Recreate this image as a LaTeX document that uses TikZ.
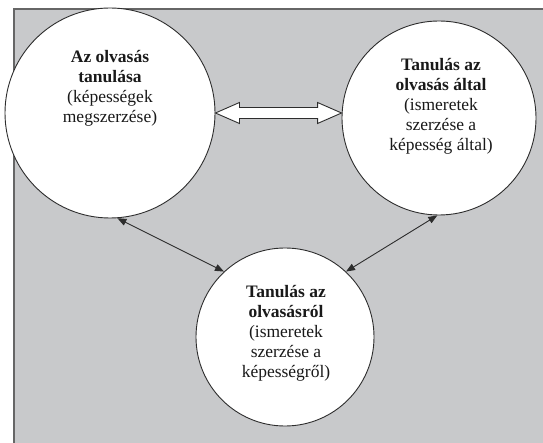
\documentclass[tikz,border=0pt]{standalone}
\usepackage{fontspec}
\setmainfont{Liberation Serif}
\usetikzlibrary{arrows.meta,calc}
\definecolor{panelgray}{RGB}{200,201,203}
\definecolor{inkgray}{RGB}{45,45,45}
\begin{document}
\begin{tikzpicture}[x=1pt,y=-1pt,
  bubble/.style={circle,draw=inkgray,line width=0.9pt,fill=white,inner sep=0pt},
  lbl/.style={align=center,font=\fontsize{17.5}{20}\selectfont,inner sep=0pt,text=black!90},
  conn/.style={draw=inkgray,line width=0.9pt,{Triangle[length=9pt,width=7pt]}-{Triangle[length=9pt,width=7pt]}},
  hollow/.style={draw=inkgray,line width=0.9pt,fill=white,line join=miter}]
\fill[white] (0,0) rectangle (543,443);
\useasboundingbox (0,0) rectangle (543,443);
\fill[panelgray] (14,9) rectangle (543,443);
\draw[line width=1.2pt, black!60] (14,443) -- (14,9) -- (543,9);
% circles
\node[bubble,minimum size=210pt] (L) at (110,113) {};
\node[bubble,minimum size=194pt] (R) at (439,118) {};
\node[bubble,minimum size=178pt] (B) at (285,337) {};
% texts
\node[lbl] (Lt) at (110,88) {\textbf{Az olvasás}\\\textbf{tanulása}\\(képességek\\megszerzése)};
\node[lbl] (Rt) at (441,106) {\textbf{Tanulás az}\\\textbf{olvasás által}\\(ismeretek\\szerzése a\\képesség által)};
\node[lbl] (Bt) at (286,333) {\textbf{Tanulás az}\\\textbf{olvasásról}\\(ismeretek\\szerzése a\\képességről)};
% hollow double arrow
\coordinate (a) at (L.east);
\coordinate (b) at (a -| R.west);
\draw[hollow] (a) -- ++(24,-10.5) -- ++(0,5) -- ($(b)+(-24,-5.5)$) -- ++(0,-5) -- (b)
  -- ++(-24,10.5) -- ++(0,-5) -- ($(a)+(24,5.5)$) -- ++(0,5) -- cycle;
% thin connectors
\draw[conn] (L.-86) -- (B.133);
\draw[conn] (R.-91) -- (B.47);
\end{tikzpicture}
\end{document}
